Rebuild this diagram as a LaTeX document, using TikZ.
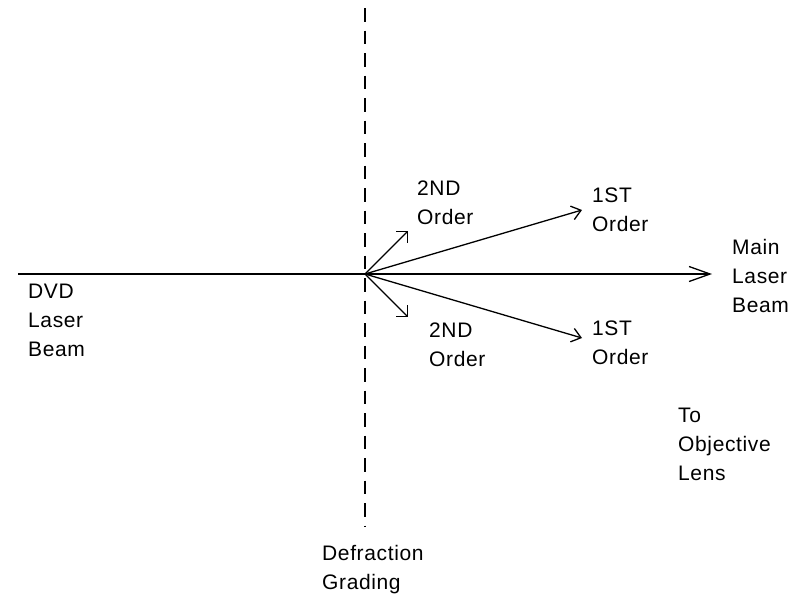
\documentclass[tikz,border=0pt]{standalone}
\usepackage{fontspec}
\setmainfont{Liberation Sans}[LetterSpace=3]
\usepackage{tikz}
\usetikzlibrary{arrows.meta,positioning}

\tikzset{
  beam/.style={line width=1.3pt},
  lbl/.style={anchor=north west, inner sep=0pt, align=left,
              font=\fontsize{21}{29}\selectfont},
  bigtip/.style={-{Straight Barb[length=21pt,width=15pt]}},
  midtip/.style={-{Straight Barb[length=9pt,width=14pt]}},
  smalltip/.style={-{Straight Barb[length=7.8pt,width=15.6pt]}}
}

\begin{document}
\begin{tikzpicture}[x=1pt,y=-1pt]
\useasboundingbox (0,0) rectangle (801,595);

% grating and beam points
\coordinate (gtop) at (365,8);
\coordinate (gbot) at (365,527);
\coordinate (src) at (18,274);
\coordinate (o) at (365,274);
\coordinate (main) at (712,274);
\coordinate (up2) at (408,231);
\coordinate (dn2) at (408,317);
\coordinate (up1) at (582,210);
\coordinate (dn1) at (582,338);

\draw[beam, dash pattern=on 13.5pt off 9pt] (gtop) -- (gbot);
\draw[beam, bigtip] (src) -- (main);
\draw[beam, smalltip] (o) -- (up2);
\draw[beam, smalltip] (o) -- (dn2);
\draw[beam, midtip] (o) -- (up1);
\draw[beam, midtip] (o) -- (dn1);

% labels
\node[lbl] (dvd) at (28,284) {DVD\\Laser\\Beam};
\node[lbl] (upsecond) at (417,181) {2ND\\Order};
\node[lbl] (upfirst) at (592,188) {1ST\\Order};
\node[lbl] (mainlbl) at (732,239) {Main\\Laser\\Beam};
\node[lbl] (dnsecond) at (429,323) {2ND\\Order};
\node[lbl] (dnfirst) at (592,321) {1ST\\Order};
\node[lbl] (lens) at (678,408) {To\\Objective\\Lens};
\node[lbl] (grating) at (322,545) {Defraction\\Grading};
\end{tikzpicture}
\end{document}
